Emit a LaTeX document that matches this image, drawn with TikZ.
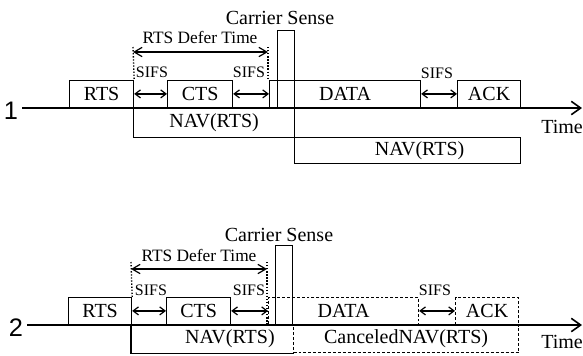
\documentclass[tikz,border=0pt]{standalone}
\usepackage{fontspec}
\setmainfont{Liberation Serif}
\newfontfamily\numfont{Liberation Sans}
\usetikzlibrary{arrows.meta}

\begin{document}
\begin{tikzpicture}[x=0.75pt,y=0.75pt,yscale=-1,xscale=1,
  frame/.style={draw, line width=0.9pt, inner sep=0pt, minimum height=20.25pt, font=\fontsize{15}{17}\selectfont},
  ghost/.style={frame, dash pattern=on 2.2pt off 1.5pt},
  slot/.style={font=\fontsize{12}{14}\selectfont, inner sep=0pt},
  note/.style={font=\fontsize{15}{17}\selectfont, inner sep=0pt},
  num/.style={font=\fontsize{19}{21}\numfont, inner sep=0pt},
  axis/.style={line width=1.2pt, -{Straight Barb[length=7pt,width=10pt]}},
  gap/.style={line width=0.9pt, {Straight Barb[length=4pt,width=6pt]}-{Straight Barb[length=4pt,width=6pt]}},
  span/.style={line width=0.9pt, {Straight Barb[length=6pt,width=7pt]}-{Straight Barb[length=6pt,width=7pt]}},
  guide/.style={line width=1pt, dash pattern=on 1pt off 1.3pt}]
\useasboundingbox (0,0) rectangle (583,355);

% station 1
\node[num] (n1) at (11,111) {1};
\coordinate (t1s) at (22,108);
\coordinate (t1e) at (582,108);
\draw[axis] (t1s) -- (t1e);
\node[frame, anchor=south west, minimum width=48pt] (rts1) at (69,108) {RTS};
\node[frame, anchor=south west, minimum width=48.75pt] (cts1) at (167,108) {CTS};
\node[frame, anchor=south west, minimum width=113.25pt] (data1) at (269,108) {DATA};
\node[frame, anchor=south west, minimum width=47.25pt] (ack1) at (457,108) {ACK};
\node[frame, anchor=south west, minimum width=12.75pt, minimum height=57.75pt] (cs1) at (277,108) {};
\node[frame, anchor=north west, minimum width=120.75pt, minimum height=21.75pt] (nav1) at (133,108) {NAV(RTS)};
\node[frame, anchor=north west, minimum width=169.5pt, minimum height=19.5pt, label={[note, xshift=9pt]center:NAV(RTS)}] (nav1b) at (294,137) {};
\node[note] (cs1l) at (280,18) {Carrier Sense};
\coordinate (dl1) at (133,47);
\coordinate (dr1) at (268,47);
\draw[guide] (dl1) -- (rts1.north east);
\draw[guide] (dr1) -- (dr1 |- data1.north);
\coordinate (sl1) at (133,52);
\coordinate (sr1) at (268,52);
\draw[span] (sl1) -- (sr1);
\node[slot, font=\fontsize{13}{15}\selectfont] (df1) at (200,37) {RTS Defer Time};
\draw[gap] (rts1.east) -- (cts1.west);
\draw[gap] (cts1.east) -- (data1.west);
\draw[gap] (data1.east) -- (ack1.west);
\node[slot] (s1a) at (152,72) {SIFS};
\node[slot] (s1b) at (249,72) {SIFS};
\node[slot] (s1c) at (437,73) {SIFS};
\node[note] (time1) at (562,127) {Time};

% station 2
\node[num] (n2) at (16,328) {2};
\coordinate (t2s) at (27,325);
\coordinate (t2e) at (582,325);
\draw[axis] (t2s) -- (t2e);
\node[frame, anchor=south west, minimum width=47.25pt] (rts2) at (68,325) {RTS};
\node[frame, anchor=south west, minimum width=48pt] (cts2) at (166,325) {CTS};
\node[ghost, anchor=south west, minimum width=112.5pt] (data2) at (268,325) {DATA};
\node[ghost, anchor=south west, minimum width=47.25pt] (ack2) at (455,325) {ACK};
\node[frame, anchor=south west, minimum width=12.75pt, minimum height=59.25pt] (cs2) at (275,325) {};
\node[frame, draw=none, anchor=north west, minimum width=121.5pt, label={[note, xshift=13pt]center:NAV(RTS)}] (nav2) at (131,325) {};
\draw[line width=0.9pt] (nav2.north west) |- (nav2.south east);
\node[ghost, anchor=north west, minimum width=168.75pt] (nav2b) at (293,325) {CanceledNAV(RTS)};
\node[note] (cs2l) at (279,235) {Carrier Sense};
\coordinate (dl2) at (131,262);
\coordinate (dr2) at (267,262);
\draw[guide] (dl2) -- (rts2.north east);
\draw[guide] (dr2) -- (dr2 |- t2s);
\coordinate (sl2) at (131,269);
\coordinate (sr2) at (267,269);
\draw[span] (sl2) -- (sr2);
\node[slot, font=\fontsize{13}{15}\selectfont] (df2) at (199,255) {RTS Defer Time};
\draw[gap] (rts2.east) -- (cts2.west);
\draw[gap] (cts2.east) -- (data2.west);
\draw[gap] (data2.east) -- (ack2.west);
\node[slot] (s2a) at (151,290) {SIFS};
\node[slot] (s2b) at (249,290) {SIFS};
\node[slot] (s2c) at (435,290) {SIFS};
\node[note] (time2) at (562,342) {Time};
\end{tikzpicture}
\end{document}
